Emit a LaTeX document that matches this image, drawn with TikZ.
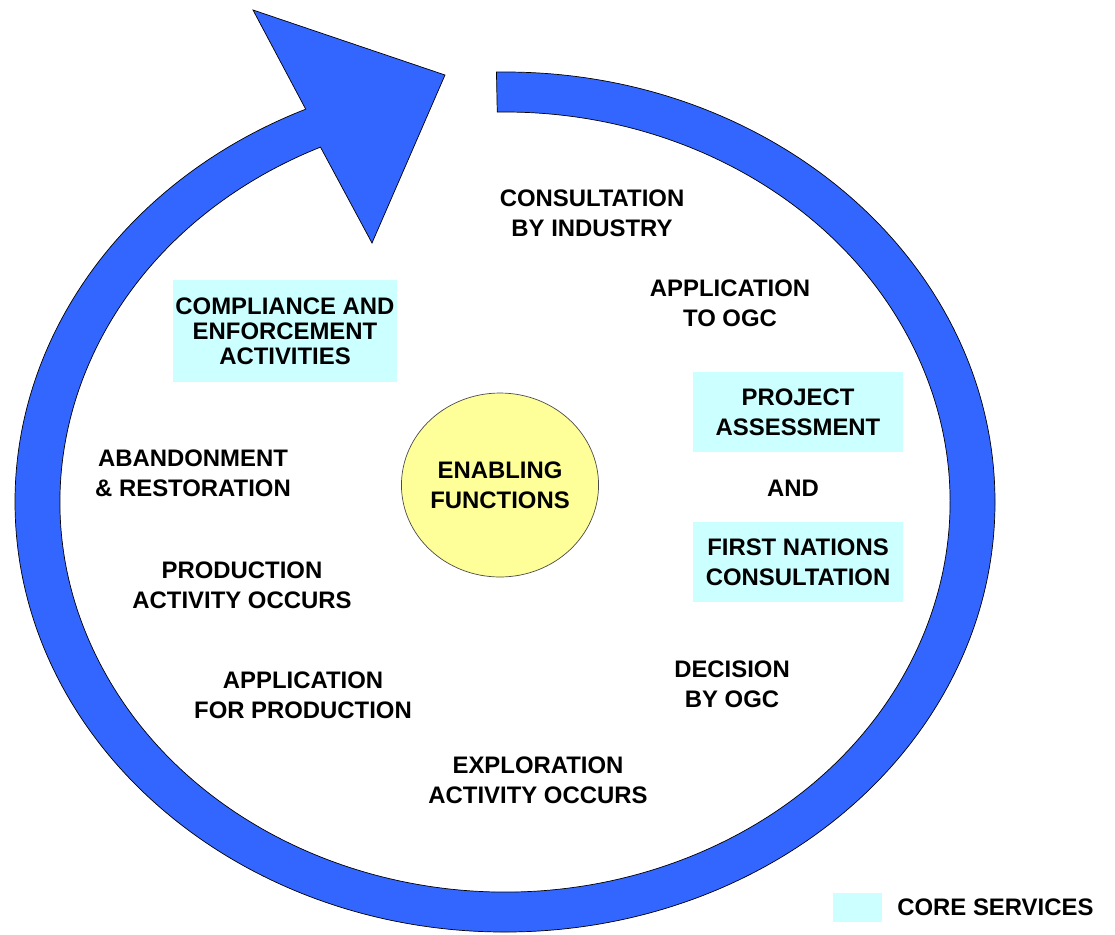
\documentclass[tikz,border=0pt]{standalone}
\usepackage{fontspec}
\setmainfont{Liberation Sans}
\usetikzlibrary{shapes.geometric}
\definecolor{ringblue}{RGB}{51,102,255}
\definecolor{corecyan}{RGB}{204,255,255}
\definecolor{enableyellow}{RGB}{255,255,153}
\tikzset{
  stage/.style = {font=\bfseries\fontsize{13.6}{17}\selectfont, align=center, inner sep=0pt},
  core/.style = {stage, fill=corecyan, minimum width=4.2cm, minimum height=1.6cm},
  hub/.style = {stage, ellipse, draw=black!70, fill=enableyellow,
                minimum width=3.88cm, minimum height=3.68cm}
}

\begin{document}
\begin{tikzpicture}[x=0.02cm,y=0.02cm]
    \useasboundingbox (0,0) rectangle (1115,-934);
    % The cycle arrow around the centre (505,-502)
    \begin{scope}[shift={(505,-502)}]
    \filldraw[fill=ringblue, draw=black, thin]
      (91:490 and 430) arc[start angle=91, end angle=-246, x radius=490, y radius=430]
      -- (-252,492) -- (-60,427) -- (-133,259)
      -- (-245.5:445 and 390) arc[start angle=-245.5, end angle=91, x radius=445, y radius=390]
      -- cycle;
    \end{scope}
    % Core services boxes
    \node[core] (assess) at (798,-412) {PROJECT\\ASSESSMENT};
    \node[core] (firstnations) at (798,-562) {FIRST NATIONS\\CONSULTATION};
    \node[core, minimum width=4.5cm, minimum height=2.04cm,
          font=\bfseries\fontsize{13.6}{14.2}\selectfont] (comply) at (285,-331)
          {COMPLIANCE AND\\ENFORCEMENT\\ACTIVITIES};
    % Stages of the cycle
    \node[stage] (consult) at (592,-213) {CONSULTATION\\BY INDUSTRY};
    \node[stage] (applyogc) at (730,-303) {APPLICATION\\TO OGC};
    \node[stage] (and) at (793,-488) {AND};
    \node[stage] (decision) at (732,-684) {DECISION\\BY OGC};
    \node[stage] (explore) at (538,-780) {EXPLORATION\\ACTIVITY OCCURS};
    \node[stage] (applyprod) at (303,-695) {APPLICATION\\FOR PRODUCTION};
    \node[stage] (produce) at (242,-585) {PRODUCTION\\ACTIVITY OCCURS};
    \node[stage] (abandon) at (193,-473) {ABANDONMENT\\\& RESTORATION};
    % Centre
    \node[hub] (enable) at (500,-485) {ENABLING\\FUNCTIONS};
    % Legend
    \node[fill=corecyan, minimum width=0.98cm, minimum height=0.58cm, inner sep=0pt]
      (legendbox) at (857.5,-907.5) {};
    \node[stage, anchor=west] (legend) at (897,-907) {CORE SERVICES};
\end{tikzpicture}
\end{document}
